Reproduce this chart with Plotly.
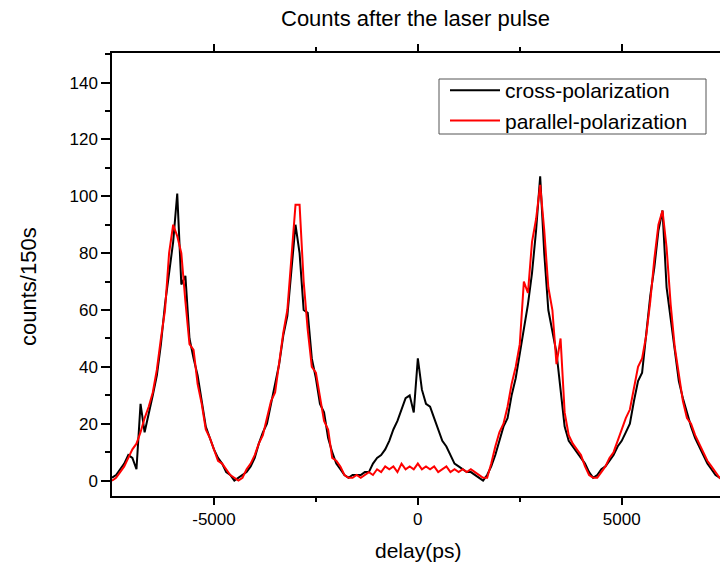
import plotly.graph_objects as go

delay_ps = list(range(-7500, 7501, 100))

cross_pol = [
    1, 2, 4, 6, 9, 8, 4, 27, 17, 23,          # -7500 .. -6600
    30, 37, 48, 62, 74, 84, 101, 69, 72, 50,  # -6500 .. -5600
    43, 37, 28, 19, 15, 11, 8, 6, 3, 2,       # -5500 .. -4600
    0, 1, 2, 3, 5, 8, 13, 17, 20, 27,         # -4500 .. -3600
    34, 41, 51, 58, 74, 90, 80, 60, 59, 43,   # -3500 .. -2600
    36, 27, 24, 15, 10, 6, 4, 2, 1, 2,        # -2500 .. -1600
    2, 2, 3, 3, 6, 8, 9, 11, 14, 18,          # -1500 .. -600
    21, 25, 29, 30, 24, 43, 32, 27, 26, 22,   # -500 .. 400
    18, 14, 12, 9, 6, 5, 4, 3, 3, 2,          # 500 .. 1400
    1, 0, 2, 5, 9, 14, 19, 22, 30, 36,        # 1500 .. 2400
    45, 53, 62, 73, 88, 107, 80, 60, 52, 45,  # 2500 .. 3400
    32, 19, 14, 12, 10, 8, 6, 3, 1, 2,        # 3500 .. 4400
    4, 5, 7, 9, 12, 14, 17, 20, 28, 35,       # 4500 .. 5400
    38, 52, 65, 75, 88, 95, 68, 57, 45, 35,   # 5500 .. 6400
    29, 24, 19, 15, 12, 9, 6, 4, 2, 1,        # 6500 .. 7400
    0,                                        # 7500
]

parallel_pol = [
    0, 1, 3, 5, 8, 11, 13, 17, 22, 26,        # -7500 .. -6600
    31, 39, 50, 60, 80, 90, 86, 80, 63, 48,   # -6500 .. -5600
    46, 34, 27, 18, 15, 11, 7, 6, 4, 2,       # -5500 .. -4600
    1, 0, 1, 4, 6, 9, 13, 16, 22, 28,         # -4500 .. -3600
    31, 42, 52, 60, 79, 97, 97, 70, 53, 40,   # -3500 .. -2600
    38, 30, 21, 18, 8, 7, 5, 2, 1, 1,         # -2500 .. -1600
    2, 1, 2, 3, 2, 4, 3, 5, 4, 5,             # -1500 .. -600
    3, 6, 4, 5, 4, 6, 4, 5, 4, 5,             # -500 .. 400
    3, 4, 5, 3, 4, 3, 4, 3, 4, 3,             # 500 .. 1400
    2, 1, 1, 6, 12, 17, 20, 26, 34, 40,       # 1500 .. 2400
    48, 70, 66, 84, 92, 104, 88, 68, 60, 41,  # 2500 .. 3400
    50, 24, 16, 13, 11, 9, 5, 2, 1, 1,        # 3500 .. 4400
    3, 5, 8, 10, 14, 18, 22, 25, 33, 40,      # 4500 .. 5400
    43, 51, 63, 78, 90, 95, 82, 62, 47, 37,   # 5500 .. 6400
    28, 22, 20, 16, 13, 10, 7, 5, 3, 1,       # 6500 .. 7400
    0,                                        # 7500
]

series_names = ["cross-polarization", "parallel-polarization"]
series_colors = ["#000000", "#ff0000"]

FONT = "Liberation Sans, Arial, sans-serif"

fig = go.Figure()
for name, vals, col in zip(series_names, [cross_pol, parallel_pol], series_colors):
    fig.add_trace(go.Scatter(x=delay_ps, y=vals, mode="lines", name=name,
                             line=dict(color=col, width=2)))

W, H = 720, 564
L, R, T, B = 112, 0, 53, 68


def px_to_paper_x(px):
    return (px - L) / (W - L - R)


def px_to_paper_y(py):
    return (H - B - py) / (H - T - B)


fig.update_layout(
    width=W, height=H,
    margin=dict(l=L, r=R, t=T, b=B),
    paper_bgcolor="white", plot_bgcolor="white",
    font=dict(family=FONT, size=16, color="#000"),
    showlegend=True,
    legend=dict(
        x=px_to_paper_x(445), y=px_to_paper_y(70),
        xanchor="left", yanchor="top",
        borderwidth=0,
        bgcolor="rgba(0,0,0,0)",
        font=dict(family=FONT, size=21, color="#000"),
        tracegroupgap=0,
        itemwidth=50,
    ),
    shapes=[
        dict(type="rect", xref="paper", yref="paper",
             x0=px_to_paper_x(439), x1=px_to_paper_x(706),
             y0=px_to_paper_y(134), y1=px_to_paper_y(79),
             line=dict(color="#555555", width=1), fillcolor="rgba(0,0,0,0)",
             layer="above"),
    ],
    xaxis=dict(
        range=[-7500, 7410],
        tickvals=[-5000, 0, 5000],
        ticktext=["-5000", "0", "5000"],
        showgrid=False, zeroline=False,
        showline=True, linecolor="#000", linewidth=1.5,
        mirror="ticks",
        ticks="outside", ticklen=7, tickwidth=1.5, tickcolor="#000",
        minor=dict(tickvals=[-2500, 2500], ticks="outside", ticklen=4,
                   tickwidth=1.5, tickcolor="#000", showgrid=False),
        tickfont=dict(family=FONT, size=17),
    ),
    yaxis=dict(
        range=[-5.4, 150.4],
        tickvals=[0, 20, 40, 60, 80, 100, 120, 140],
        showgrid=False, zeroline=False,
        showline=True, linecolor="#000", linewidth=1.5,
        ticks="outside", ticklen=9, tickwidth=1.5, tickcolor="#000",
        minor=dict(dtick=10, ticks="outside", ticklen=5, tickwidth=1.5,
                   tickcolor="#000", showgrid=False),
        tickfont=dict(family=FONT, size=17),
    ),
)

fig.add_annotation(text="Counts after the laser pulse", xref="paper", yref="paper",
                   x=px_to_paper_x(415), y=px_to_paper_y(18), showarrow=False,
                   xanchor="center", yanchor="middle",
                   font=dict(family=FONT, size=22, color="#000"))
fig.add_annotation(text="delay(ps)", xref="paper", yref="paper",
                   x=px_to_paper_x(418), y=px_to_paper_y(550), showarrow=False,
                   xanchor="center", yanchor="middle",
                   font=dict(family=FONT, size=21, color="#000"))
fig.add_annotation(text="counts/150s", xref="paper", yref="paper",
                   x=px_to_paper_x(28), y=px_to_paper_y(286), showarrow=False,
                   textangle=-90, xanchor="center", yanchor="middle",
                   font=dict(family=FONT, size=22, color="#000"))

fig.write_html("out.html")
